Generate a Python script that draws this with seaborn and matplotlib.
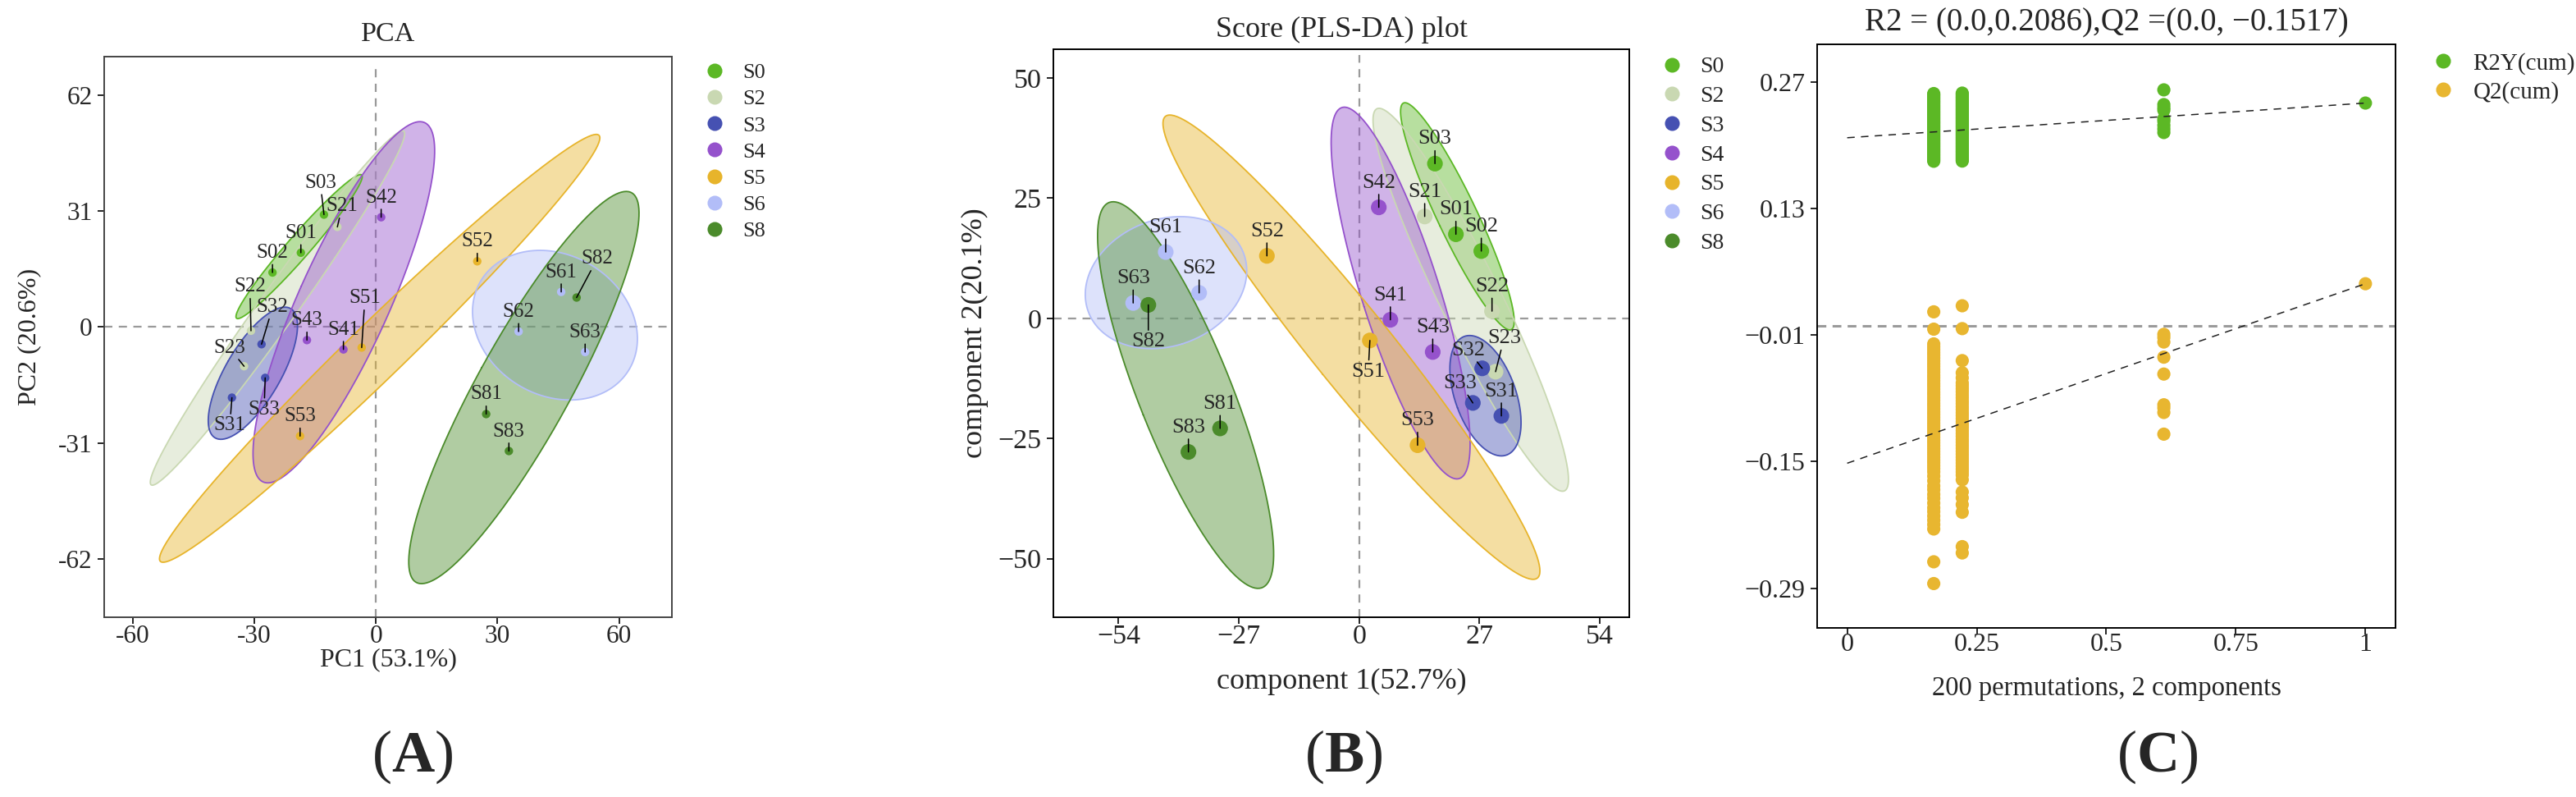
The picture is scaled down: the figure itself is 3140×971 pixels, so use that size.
import numpy as np
import pandas as pd
import seaborn as sns
import matplotlib.pyplot as plt
from matplotlib.lines import Line2D

# Estilo
sns.set_theme(style="ticks")
plt.rcParams["font.family"] = ["Liberation Serif", "DejaVu Serif"]
plt.rcParams["mathtext.fontset"] = "custom"
plt.rcParams["mathtext.rm"] = "Liberation Serif"
plt.rcParams["mathtext.bf"] = "Liberation Serif:bold"
plt.rcParams["axes.unicode_minus"] = True

# Amostras e grupos
samples = ["S01", "S02", "S03", "S21", "S22", "S23", "S31", "S32", "S33",
           "S41", "S42", "S43", "S51", "S52", "S53", "S61", "S62", "S63",
           "S81", "S82", "S83"]
groups = ["S0", "S2", "S3", "S4", "S5", "S6", "S8"]
group_colors = ["#5cb825", "#c9d8b2", "#4651b2", "#9552cc",
                "#e7b42b", "#b2bdf8", "#4b8b2b"]

# (A) PCA scores
pca_pc1 = [-18.5, -25.5, -12.8, -9.5, -30.8, -32.5, -35.5, -28.2, -27.3,
           -8.0, 1.3, -17.0, -3.5, 25.0, -18.7, 45.7, 35.2, 51.6,
           27.2, 49.5, 32.8]
pca_pc2 = [19.9, 14.6, 30.1, 26.8, -1.0, -10.5, -18.9, -4.6, -13.6,
           -6.0, 29.4, -3.5, -5.5, 17.6, -29.2, 9.4, -1.2, -6.7,
           -23.3, 7.9, -33.2]

# (B) PLS-DA scores
pls_c1 = [21.7, 27.4, 17.0, 14.7, 29.8, 30.6, 31.9, 27.6, 25.5,
          7.0, 4.4, 16.5, 2.4, -20.7, 13.1, -43.4, -35.9, -50.7,
          -31.2, -47.3, -38.3]
pls_c2 = [17.5, 14.0, 32.2, 21.2, 1.5, -11.1, -20.3, -10.4, -17.6,
          -0.3, 23.1, -7.0, -4.6, 13.0, -26.4, 13.8, 5.3, 3.2,
          -22.9, 2.8, -27.8]

# (C) teste de permutacao (200 permutacoes)
perm_corr = [0.167, 0.222, 0.611]
r2_perm_1 = [0.2575, 0.2561, 0.2548, 0.2530, 0.2517, 0.2499, 0.2484, 0.2470,
             0.2452, 0.2437, 0.2421, 0.2406, 0.2390, 0.2373, 0.2359, 0.2342,
             0.2328, 0.2311, 0.2296, 0.2280, 0.2263, 0.2249, 0.2233, 0.2216,
             0.2202, 0.2186, 0.2170, 0.2155, 0.2138, 0.2124, 0.2107, 0.2093,
             0.2076, 0.2061, 0.2045, 0.2029, 0.2014, 0.1998, 0.1983, 0.1966,
             0.1951, 0.1935, 0.1920, 0.1903, 0.1889, 0.1872, 0.1857, 0.1841,
             0.1826]
r2_perm_2 = [0.2580, 0.2566, 0.2549, 0.2533, 0.2519, 0.2502, 0.2488, 0.2471,
             0.2456, 0.2440, 0.2425, 0.2408, 0.2394, 0.2377, 0.2362, 0.2346,
             0.2331, 0.2314, 0.2300, 0.2283, 0.2268, 0.2252, 0.2237, 0.2220,
             0.2206, 0.2189, 0.2174, 0.2158, 0.2143, 0.2126, 0.2112, 0.2095,
             0.2080, 0.2064, 0.2049, 0.2032, 0.2018, 0.2001, 0.1986, 0.1970,
             0.1955, 0.1938, 0.1924, 0.1907, 0.1892, 0.1876, 0.1861, 0.1844,
             0.1828]
r2_perm_3 = [0.2616, 0.2453, 0.2419, 0.2391, 0.2296, 0.2268, 0.2223, 0.2183,
             0.2144]
q2_perm_1 = [0.0159, -0.0033, -0.0196, -0.0228, -0.0259, -0.0291, -0.0320,
             -0.0352, -0.0385, -0.0417, -0.0446, -0.0478, -0.0509, -0.0543,
             -0.0571, -0.0604, -0.0636, -0.0665, -0.0697, -0.0730, -0.0759,
             -0.0791, -0.0822, -0.0855, -0.0884, -0.0916, -0.0949, -0.0978,
             -0.1010, -0.1041, -0.1073, -0.1104, -0.1135, -0.1167, -0.1198,
             -0.1229, -0.1262, -0.1291, -0.1323, -0.1356, -0.1387, -0.1418,
             -0.1450, -0.1482, -0.1511, -0.1544, -0.1576, -0.1612, -0.1660,
             -0.1712, -0.1768, -0.1810, -0.1862, -0.1905, -0.1958, -0.2010,
             -0.2052, -0.2101, -0.2148, -0.2196, -0.2245, -0.2608, -0.2849]
q2_perm_2 = [0.0226, -0.0027, -0.0381, -0.0516, -0.0572, -0.0628, -0.0660,
             -0.0693, -0.0725, -0.0760, -0.0792, -0.0826, -0.0857, -0.0891,
             -0.0923, -0.0958, -0.0989, -0.1022, -0.1056, -0.1088, -0.1120,
             -0.1154, -0.1187, -0.1219, -0.1253, -0.1285, -0.1318, -0.1350,
             -0.1384, -0.1417, -0.1450, -0.1483, -0.1515, -0.1549, -0.1582,
             -0.1614, -0.1648, -0.1700, -0.1835, -0.1900, -0.1975, -0.2060,
             -0.2440, -0.2510]
q2_perm_3 = [-0.0090, -0.0125, -0.0175, -0.0343, -0.0530, -0.0870, -0.0905,
             -0.0955, -0.1195]
r2_actual = 0.247
q2_actual = 0.047
r2_intercept = 0.2086
q2_intercept = -0.1517

perm_colors = {"R2Y(cum)": "#5cb825", "Q2(cum)": "#e8b630"}

# tabelas
pca_df = pd.DataFrame({"sample": samples, "x": pca_pc1, "y": pca_pc2})
pca_df["group"] = pca_df["sample"].str[:2]
pls_df = pd.DataFrame({"sample": samples, "x": pls_c1, "y": pls_c2})
pls_df["group"] = pls_df["sample"].str[:2]

parts = []
for cx, r2v, q2v in zip(perm_corr, [r2_perm_1, r2_perm_2, r2_perm_3],
                        [q2_perm_1, q2_perm_2, q2_perm_3]):
    parts.append(pd.DataFrame({"corr": cx, "value": r2v, "metric": "R2Y(cum)"}))
    parts.append(pd.DataFrame({"corr": cx, "value": q2v, "metric": "Q2(cum)"}))
parts.append(pd.DataFrame({"corr": [1.0, 1.0], "value": [r2_actual, q2_actual],
                           "metric": ["R2Y(cum)", "Q2(cum)"]}))
perm_df = pd.concat(parts, ignore_index=True)

palette = dict(zip(groups, group_colors))


def draw_ellipse(ax, x, y, color):
    # elipse de confianca 95% (normal) a partir da covariancia do grupo
    pts = np.column_stack([x, y])
    vals, vecs = np.linalg.eigh(np.cov(pts, rowvar=False))
    t = np.linspace(0, 2 * np.pi, 300)
    circ = np.column_stack([np.cos(t), np.sin(t)]) * np.sqrt(5.991) * np.sqrt(vals)
    ell = pts.mean(axis=0) + circ @ vecs.T
    ax.fill(ell[:, 0], ell[:, 1], facecolor=color, alpha=0.44, edgecolor="none", zorder=1)
    ax.plot(ell[:, 0], ell[:, 1], color=color, lw=1.3, zorder=1.1)


def label_points(ax, df, default, offsets, size):
    for _, r in df.iterrows():
        dx, dy = offsets.get(r["sample"], default)
        ax.annotate(r["sample"], xy=(r["x"], r["y"]), xytext=(dx * 0.72, dy * 0.72),
                    textcoords="offset points", ha="center", va="center",
                    fontsize=size, zorder=5,
                    arrowprops=dict(arrowstyle="-", color="black", lw=1.1,
                                    shrinkA=0, shrinkB=0))


def style_axes(ax, spine_color="black"):
    for s in ax.spines.values():
        s.set_visible(True)
        s.set_color(spine_color)
        s.set_linewidth(1.4)
    ax.tick_params(direction="out", length=5.5, width=1.2, color="black")


fig = plt.figure(figsize=(31.4, 9.71), dpi=100)
axA = fig.add_axes([0.04045, 0.22554, 0.22038, 0.70340])
axB = fig.add_axes([0.40892, 0.22554, 0.22357, 0.71267])
axC = fig.add_axes([0.70541, 0.21215, 0.22452, 0.73223])

zero_kw = dict(color="#9a9a9a", lw=1.6, ls=(0, (4.5, 3.5)), zorder=0.5)

# ---------------- (A) PCA ----------------
for g in groups:
    sub = pca_df[pca_df["group"] == g]
    draw_ellipse(axA, sub["x"], sub["y"], palette[g])
axA.axhline(0, **zero_kw)
axA.axvline(0, ymax=0.982, **zero_kw)
sns.scatterplot(data=pca_df, x="x", y="y", hue="group", palette=palette,
                hue_order=groups, s=55, linewidth=0, legend=False, ax=axA, zorder=4)
offA = {"S03": (-4.5, 38.7), "S21": (5.8, 25), "S22": (-1.3, 53.5),
        "S32": (13.5, 45), "S51": (3.9, 60), "S23": (-18, 22.6),
        "S33": (-1.3, -38.7), "S31": (-2.6, -34), "S82": (25, 47)}
label_points(axA, pca_df, (0, 24), offA, 18)
axA.set_xlim(-67.0, 73.0)
axA.set_ylim(-77.7, 72.4)
axA.set_xticks([-60, -30, 0, 30, 60], ["-60", "-30", "0", "30", "60"])
axA.set_yticks([-62, -31, 0, 31, 62], ["-62", "-31", "0", "31", "62"])
style_axes(axA, "#444444")
axA.tick_params(axis="both", labelsize=22.5)
axA.tick_params(axis="x", pad=0.7)
axA.tick_params(axis="y", pad=5)
axA.set_xlabel("PC1 (53.1%)", fontsize=23, labelpad=0)
axA.set_ylabel("PC2 (20.6%)", fontsize=23, labelpad=15)
axA.set_title("PCA", fontsize=24.5, pad=13.7)

# ---------------- (B) PLS-DA ----------------
for g in groups:
    sub = pls_df[pls_df["group"] == g]
    draw_ellipse(axB, sub["x"], sub["y"], palette[g])
axB.axhline(0, **zero_kw)
axB.axvline(0, ymax=0.99, **zero_kw)
sns.scatterplot(data=pls_df, x="x", y="y", hue="group", palette=palette,
                hue_order=groups, s=190, linewidth=0, legend=False, ax=axB, zorder=4)
offB = {"S51": (-2, -38), "S32": (-17.4, 22), "S23": (10.3, 40.6),
        "S33": (-15.5, 23.8), "S82": (0, -45)}
label_points(axB, pls_df, (0, 30), offB, 19)
axB.set_xlim(-68.6, 60.6)
axB.set_ylim(-62.2, 56.0)
axB.set_xticks([-54, -27, 0, 27, 54])
axB.set_yticks([-50, -25, 0, 25, 50])
style_axes(axB)
axB.tick_params(axis="both", labelsize=24.5)
axB.tick_params(axis="x", pad=0.3)
axB.tick_params(axis="y", pad=5)
axB.set_xlabel("component 1(52.7%)", fontsize=26, labelpad=17)
axB.set_ylabel("component 2(20.1%)", fontsize=26, labelpad=8)
axB.set_title("Score (PLS-DA) plot", fontsize=26, pad=10.8)

# ---------------- (C) permutacao ----------------
axC.axhline(0, color="#9a9a9a", lw=2.2, ls=(0, (3.5, 2.5)), zorder=0.5)
axC.plot([0, 1], [r2_intercept, r2_actual], color="#222222", lw=1.1,
         ls=(0, (6, 5)), zorder=3)
axC.plot([0, 1], [q2_intercept, q2_actual], color="#222222", lw=1.1,
         ls=(0, (6, 5)), zorder=3)
sns.scatterplot(data=perm_df, x="corr", y="value", hue="metric",
                palette=perm_colors, s=135, linewidth=0, legend=False,
                ax=axC, zorder=2)
axC.set_xlim(-0.058, 1.058)
axC.set_ylim(-0.334, 0.312)
axC.set_xticks([0, 0.25, 0.5, 0.75, 1], ["0", "0.25", "0.5", "0.75", "1"])
axC.set_yticks([0.27, 0.13, -0.01, -0.15, -0.29],
               ["0.27", "0.13", "\u22120.01", "\u22120.15", "\u22120.29"])
style_axes(axC)
axC.tick_params(axis="both", labelsize=23)
axC.tick_params(axis="x", pad=-1)
axC.tick_params(axis="y", pad=5)
axC.set_xlabel("200 permutations, 2 components", fontsize=23.5, labelpad=17)
axC.set_ylabel("")
axC.set_title("R2 = (0.0,0.2086),Q2 =(0.0, \u22120.1517)", fontsize=28, pad=12)

# legendas
def make_legend(ax, labels, colors, anchor, size, spacing, pad):
    handles = [Line2D([], [], marker="o", ls="", color=c, markersize=13,
                      markeredgewidth=0) for c in colors]
    ax.legend(handles, labels, loc="upper left", bbox_to_anchor=anchor,
              bbox_transform=fig.transFigure, frameon=False, fontsize=size,
              handlelength=1.0, handletextpad=pad, borderpad=0,
              borderaxespad=0, labelspacing=spacing)

make_legend(axA, groups, group_colors, (0.2732, 0.921), 19, 0.33, 0.78)
make_legend(axB, groups, group_colors, (0.6446, 0.929), 20, 0.37, 0.73)
make_legend(axC, list(perm_colors), list(perm_colors.values()), (0.9437, 0.934), 21, 0.27, 0.75)

# letras dos paineis
for txt, xp in [("A", 503), ("B", 1638), ("C", 2630)]:
    fig.text(xp / 3140, 1 - 922 / 971, "(" + r"$\mathbf{" + txt + "}$" + ")",
             fontsize=52, ha="center", va="center")

fig.savefig("out.png", dpi=100)
